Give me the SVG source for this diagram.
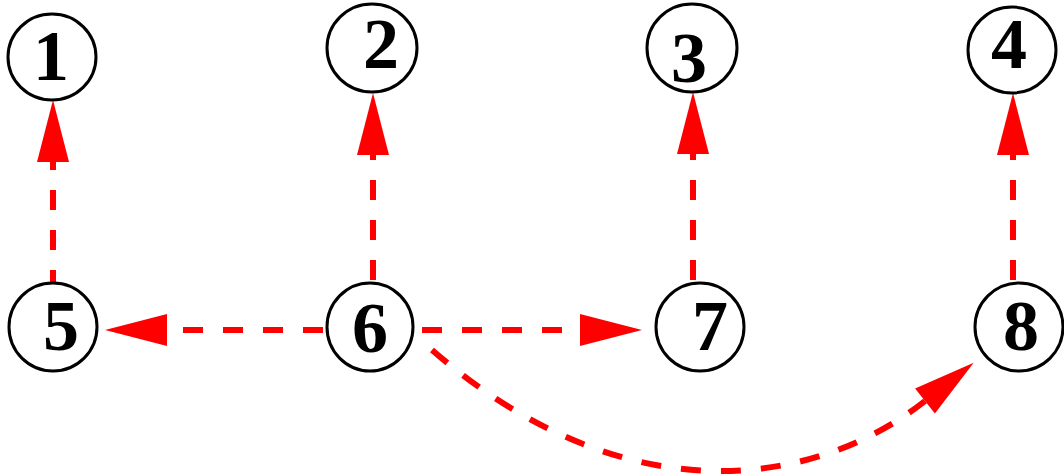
<svg xmlns="http://www.w3.org/2000/svg" width="1064" height="474" viewBox="0 0 1064 474">
<style>
.node ellipse{fill:#fff;stroke:#000;stroke-width:3}
.node text{font-family:"Liberation Serif","Times New Roman",serif;font-weight:bold;font-size:72px;text-anchor:middle;fill:#000}
.edge{fill:none;stroke:#f00;stroke-width:6;stroke-dasharray:20 20;marker-end:url(#ah)}
</style>
<defs>
<marker id="ah" markerUnits="userSpaceOnUse" markerWidth="64" markerHeight="34" viewBox="0 -17 64 34" refX="0" refY="0" orient="auto" overflow="visible">
<path d="M0,-16 L62,0 L0,16 Z" fill="#f00"/>
</marker>
</defs>
<rect width="1064" height="474" fill="#fff"/>
<g id="connectors">
<path class="edge" d="M53,290 L53,162"/>
<path class="edge" d="M373,280 L373,155"/>
<path class="edge" d="M693,280 L693,154"/>
<path class="edge" d="M1013,280 L1013,155"/>
<path class="edge" d="M323,330 L167,330"/>
<path class="edge" d="M422,330 L580,330"/>
<path class="edge" d="M432,350 C622,515 812,490 925,401"/>
</g>
<g id="node1" class="node"><ellipse cx="52" cy="57" rx="44" ry="43"/><text x="51" y="80">1</text></g>
<g id="node2" class="node"><ellipse cx="372" cy="48" rx="45" ry="44"/><text x="381" y="68">2</text></g>
<g id="node3" class="node"><ellipse cx="692" cy="48" rx="45" ry="44"/><text x="689" y="82">3</text></g>
<g id="node4" class="node"><ellipse cx="1012" cy="50" rx="44" ry="43"/><text x="1009" y="68">4</text></g>
<g id="node5" class="node"><ellipse cx="53" cy="327" rx="44" ry="44"/><text x="61" y="350">5</text></g>
<g id="node6" class="node"><ellipse cx="370" cy="327" rx="43" ry="44"/><text x="370" y="352">6</text></g>
<g id="node7" class="node"><ellipse cx="700" cy="327" rx="44" ry="44"/><text x="710" y="350">7</text></g>
<g id="node8" class="node"><ellipse cx="1019" cy="327" rx="44" ry="44"/><text x="1021" y="350">8</text></g>
</svg>
